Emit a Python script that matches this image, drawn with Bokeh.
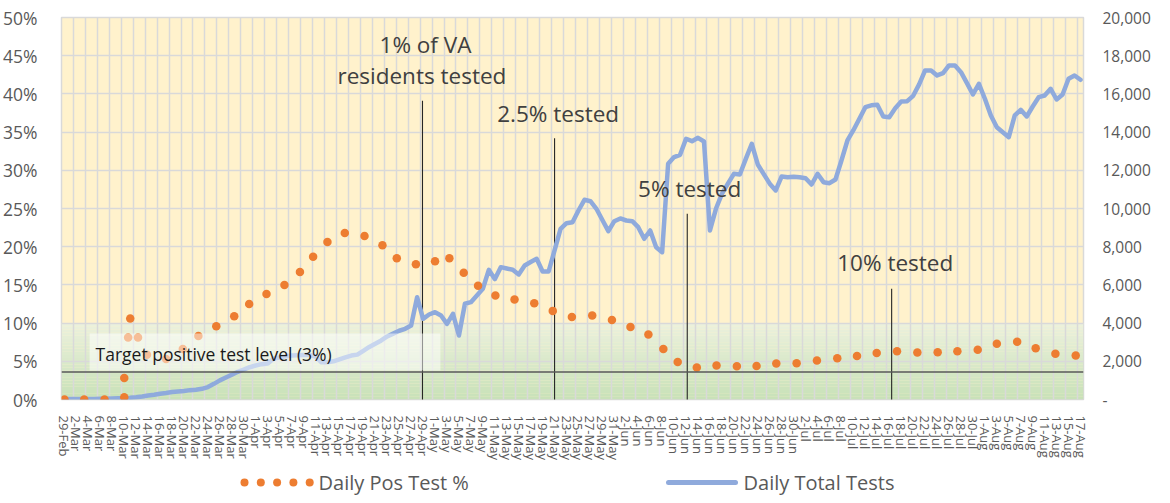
import pandas as pd
from bokeh.plotting import figure
from bokeh.layouts import column
from bokeh.models import Range1d, LinearAxis, FixedTicker, BoxAnnotation, Span
from bokeh.core.properties import value
from bokeh.embed import file_html
from bokeh.resources import INLINE

# ---------------- data ----------------
dates = [d.strftime("%-d-%b") for d in pd.date_range("2020-02-29", "2020-08-17")]
day_idx = list(range(len(dates)))

total_tests = [
    30, 30, 30, 30, 30, 30, 40, 40, 50, 60,
    70, 90, 120, 160, 210, 250, 300, 340, 390, 420,
    450, 490, 510, 560, 650, 820, 1000, 1150, 1300, 1450,
    1570, 1690, 1780, 1850, 1880, 2140, 2200, 2260, 2300, 2320,
    2330, 2340, 2250, 1950, 1950, 2000, 2100, 2200, 2300, 2350,
    2550, 2750, 2916, 3090, 3300, 3450, 3600, 3700, 3875, 5357,
    4225, 4450, 4571, 4398, 3962, 4487, 3351, 5011, 5096, 5450,
    5796, 6790, 6302, 6929, 6860, 6790, 6545, 7016, 7200, 7367,
    6702, 6702, 7802, 8937, 9231, 9284, 9896, 10456, 10383, 9985,
    9400, 8813, 9336, 9477, 9372, 9336, 9022, 8414, 8849, 7974,
    7712, 12341, 12690, 12812, 13650, 13524, 13702, 13509, 8849, 9985,
    10770, 11300, 11817, 11781, 12600, 13388, 12305, 11800, 11300, 10943,
    11676, 11640, 11660, 11640, 11587, 11257, 11817, 11378, 11326, 11520,
    12514, 13561, 14100, 14700, 15305, 15400, 15431, 14818, 14781, 15253,
    15603, 15619, 15900, 16500, 17226, 17226, 16965, 17085, 17488, 17488,
    17138, 16562, 15970, 16527, 15745, 14871, 14258, 13990, 13734, 14871,
    15168, 14818, 15341, 15829, 15918, 16268, 15708, 15970, 16792, 16965,
    16739,
]

# positive test %: position (days after 29-Feb) and value
pos_day = [0, 3.3, 6.7, 10.0, 10.0, 10.65, 11.0, 12.3, 13.8, 17.0,
           19.8, 22.4, 25.4, 28.4, 30.9, 33.8, 36.8, 39.4, 41.6, 44.0,
           46.9, 50.2, 53.2, 55.6, 58.8, 62.0, 64.4, 66.8, 69.2, 72.1,
           75.3, 78.6, 81.7, 84.9, 88.3, 91.6, 94.7, 97.7, 100.2, 102.6,
           105.8, 109.1, 112.5, 115.8, 119.1, 122.5, 125.9, 129.3, 132.6, 135.9,
           139.3, 142.7, 146.1, 149.4, 152.8, 156.0, 159.4, 162.5, 165.8, 169.2]
pos_pct = [0, 0, 0, 0.3, 2.8, 8.1, 10.6, 8.1, 5.85, 5.3,
           6.6, 8.3, 9.6, 10.9, 12.5, 13.8, 15.0, 16.7, 18.7, 20.6,
           21.8, 21.4, 20.2, 18.5, 17.7, 18.1, 18.5, 16.6, 14.9, 13.6,
           13.1, 12.6, 11.6, 10.8, 11.0, 10.4, 9.5, 8.5, 6.6, 4.9,
           4.2, 4.45, 4.36, 4.4, 4.7, 4.75, 5.1, 5.4, 5.7, 6.1,
           6.3, 6.15, 6.2, 6.3, 6.5, 7.3, 7.55, 6.7, 6.0, 5.75]

series_names = ["Daily Pos Test %", "Daily Total Tests"]

left_ticks = [0, 5, 10, 15, 20, 25, 30, 35, 40, 45, 50]
right_ticks = [0, 2000, 4000, 6000, 8000, 10000, 12000, 14000, 16000, 18000, 20000]
right_labels = ["-", "2,000", "4,000", "6,000", "8,000", "10,000", "12,000",
                "14,000", "16,000", "18,000", "20,000"]

milestone_x = [59.9, 82.0, 104.2, 138.4]
milestone_top = [39.1, 34.2, 24.3, 14.5]
milestone_text = ["1% of VA", "residents tested", "2.5% tested", "5% tested", "10% tested"]
milestone_tx = [60.4, 59.8, 82.6, 104.6, 139.0]
milestone_ty = [46.5, 42.4, 37.5, 27.6, 17.9]

target_level = 3.6
FONT = "Open Sans"
GREY = "#595959"
ORANGE = "#ED7D31"
BLUE = "#8FAADC"

W = 1154
MAIN_H = 462
LEG_H = 33
FRAME_L, FRAME_R = 61, 1083

# ---------------- main figure ----------------
p = figure(width=W, height=MAIN_H, output_backend="svg", toolbar_location=None,
           x_range=Range1d(-0.5, 170.5), y_range=Range1d(0, 50),
           min_border_left=FRAME_L, min_border_right=W - FRAME_R, min_border_top=17,
           min_border_bottom=MAIN_H - 399, background_fill_color="#FFF2CC",
           border_fill_color="white", outline_line_color="#D9D9D9",
           outline_line_width=1.5)
p.extra_y_ranges = {"tests": Range1d(0, 20000)}

# green gradient band 0-10%
c0 = (200, 225, 184)
c1 = (236, 241, 221)
nb = 24
for k in range(nb):
    t = (k + 0.5) / nb
    col = "#%02x%02x%02x" % tuple(int(round(c0[j] + (c1[j] - c0[j]) * t)) for j in range(3))
    r = p.quad(left=-0.5, right=170.5, bottom=10 * k / nb, top=10 * (k + 1) / nb,
               fill_color=col, line_color=None)
    r.level = "image"

# axes
p.yaxis.ticker = FixedTicker(ticks=left_ticks)
p.yaxis.major_label_overrides = {v: f"{v}%" for v in left_ticks}
ax_r = LinearAxis(y_range_name="tests", ticker=FixedTicker(ticks=right_ticks),
                  major_label_overrides=dict(zip(right_ticks, right_labels)))
p.add_layout(ax_r, "right")

even_idx = day_idx[::2]
p.xaxis.ticker = FixedTicker(ticks=even_idx)
p.xaxis.major_label_overrides = {i: dates[i] for i in even_idx}
p.xaxis.major_label_orientation = "vertical"

for ax in p.axis:
    ax.axis_line_color = None
    ax.major_tick_line_color = None
    ax.minor_tick_line_color = None
    ax.major_label_text_font = FONT
    ax.major_label_text_color = GREY
p.yaxis[0].major_label_text_font_size = "17.5px"
p.yaxis[0].major_label_standoff = 18
ax_r.major_label_text_font_size = "15.5px"
ax_r.major_label_standoff = 13
p.xaxis.major_label_text_font_size = "13px"
p.xaxis.major_label_standoff = 10

# grids
p.ygrid.ticker = FixedTicker(ticks=left_ticks)
p.ygrid.grid_line_color = "#D9D9D9"
p.ygrid.grid_line_width = 1.5
p.xgrid.ticker = FixedTicker(ticks=[i - 0.5 for i in even_idx[1:]])
p.xgrid.grid_line_color = "#D9D9D9"
p.xgrid.grid_line_width = 1.5

# target line
p.add_layout(Span(location=target_level, dimension="width", line_color=GREY,
                  line_width=1.3))

# milestone lines
p.segment(x0=milestone_x, y0=[-0.2] * 4, x1=milestone_x, y1=milestone_top,
          line_color="#262626", line_width=1.1)

# series
p.line(day_idx, total_tests, y_range_name="tests", line_color=BLUE,
       line_width=4.5, line_join="round", line_cap="round")
p.scatter(pos_day, pos_pct, size=8.5, fill_color=ORANGE, line_color=None)

# target label box + text
p.add_layout(BoxAnnotation(left=4.2, right=62.9, bottom=3.8, top=8.64,
                           fill_color="white", fill_alpha=0.5, line_color=None))
tr = p.text(x=[5.2], y=[5.95], text=["Target positive test level (3%)"],
            text_font=value(FONT), text_font_size="17.5px", text_color="#1a1a1a",
            text_align="left", text_baseline="middle")
tr.level = "overlay"

p.text(x=milestone_tx, y=milestone_ty, text=milestone_text, text_font=value(FONT),
       text_font_size="22.5px", text_color="#404040", text_align="center",
       text_baseline="middle")

# ---------------- legend strip (frame-aligned pixel coordinates) ----------------
lg = figure(width=W, height=LEG_H, output_backend="svg", toolbar_location=None,
            x_range=Range1d(FRAME_L, FRAME_R), y_range=Range1d(0, LEG_H),
            x_axis_location=None, y_axis_location=None,
            min_border_left=FRAME_L, min_border_right=W - FRAME_R,
            min_border_top=0, min_border_bottom=0,
            outline_line_color=None, background_fill_color="white",
            border_fill_color="white")
lg.grid.visible = False
ly = 13
lg.scatter(x=[244, 260.3, 276.6, 292.9, 309.2], y=[ly] * 5, size=8,
           fill_color=ORANGE, line_color=None)
lg.segment(x0=[668], y0=[ly], x1=[735], y1=[ly], line_color=BLUE, line_width=5,
           line_cap="round")
lg.text(x=[318, 743], y=[ly, ly], text=series_names, text_font=value(FONT),
        text_font_size="20px", text_color=GREY, text_align="left",
        text_baseline="middle")

layout = column(p, lg, spacing=0)
open("out.html", "w").write(file_html(layout, INLINE))
